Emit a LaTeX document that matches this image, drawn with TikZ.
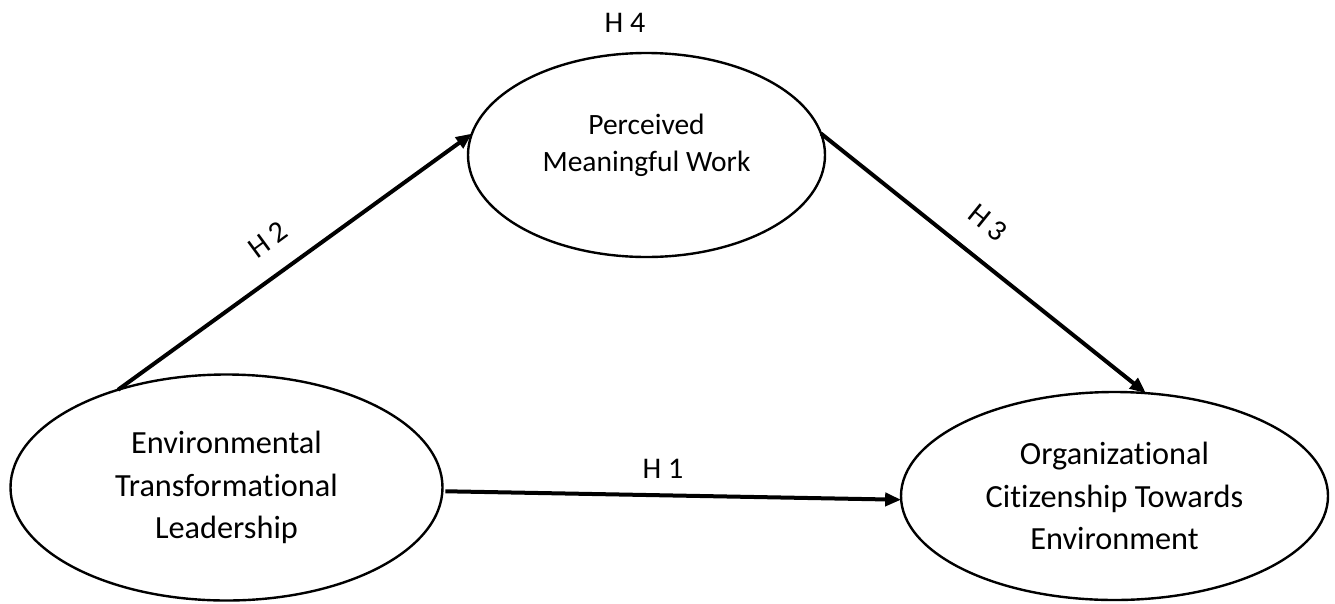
\documentclass[tikz,border=0pt]{standalone}
\usepackage{fontspec}
\setmainfont{Carlito}[Ligatures=NoCommon]
\usetikzlibrary{shapes.geometric,arrows.meta}
\begin{document}
\begin{tikzpicture}[x=1pt,y=-1pt,
  construct/.style={ellipse,draw=black,line width=2.4pt,outer sep=0pt,inner sep=0pt,
    align=center,font=\fontsize{32.3}{42.5}\selectfont},
  link/.style={line width=4pt,-{Triangle[length=16pt,width=13pt]}},
  hyp/.style={font=\fontsize{30}{36}\selectfont,inner sep=0pt}]
\useasboundingbox (0,0) rectangle (1335,603);
\node[construct,minimum width=432pt,minimum height=226pt] (etl) at (226.5,487.5)
  {Environmental\\Transformational\\Leadership};
\node[construct,minimum width=357pt,minimum height=204pt,
  label={[name=pmwtext,align=center,font=\fontsize{29.5}{37}\selectfont,yshift=10pt]center:Perceived\\Meaningful Work}]
  (pmw) at (646.5,155) {};
\node[construct,minimum width=427pt,minimum height=208pt] (oce) at (1114.5,496)
  {Organizational\\Citizenship Towards\\Environment};
\draw[link] (etl.138.6) -- (pmw.173.6);
\draw[link] (pmw.7.1) -- (oce.73.5);
\draw[link] ([xshift=3pt]etl.-1.7) -- (oce.181.7);
\node[hyp] (h4) at (625,23) {H 4};
\node[hyp,rotate=36.3] (h2) at (268,240) {H 2};
\node[hyp,rotate=-38.9] (h3) at (988,223) {H 3};
\node[hyp] (h1) at (663,469) {H 1};
\end{tikzpicture}
\end{document}
